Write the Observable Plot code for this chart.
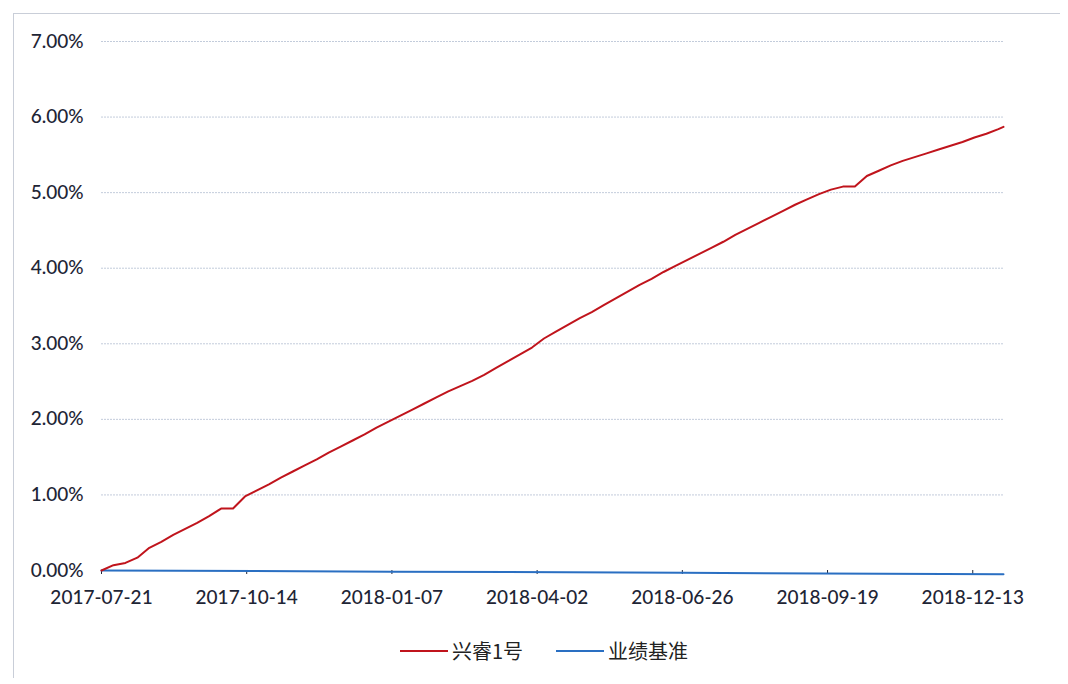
<!DOCTYPE html>
<html><head><meta charset="utf-8">
<script src="https://cdn.jsdelivr.net/npm/d3@7"></script>
<script src="https://cdn.jsdelivr.net/npm/@observablehq/plot@0.6"></script>
<style>
html,body{margin:0;padding:0;background:#fff;}
#frame{position:absolute;left:13px;top:13px;width:1046px;height:664px;border:1px solid #c9ced8;border-right:none;border-bottom:none;}
#chart{position:absolute;left:0;top:0;}
#legend{position:absolute;left:0;top:636px;width:1068px;font-family:"Noto Sans CJK SC",sans-serif;font-size:20px;color:#222;}
.item{position:absolute;top:0;display:flex;align-items:center;}
.sw{display:inline-block;width:48px;height:2px;margin-right:4px;}
</style></head>
<body>
<div id="frame"></div>
<div id="chart"></div>
<div id="legend">
  <div class="item" style="left:400px"><span class="sw" style="background:#c0141c"></span><span>兴睿1号</span></div>
  <div class="item" style="left:556px"><span class="sw" style="background:#2a6fc2"></span><span>业绩基准</span></div>
</div>
<script>
const fundDates = ["2017-07-21","2017-07-28","2017-08-04","2017-08-11","2017-08-18","2017-08-25","2017-09-01","2017-09-08","2017-09-15","2017-09-22","2017-09-29","2017-10-06","2017-10-13","2017-10-20","2017-10-27","2017-11-03","2017-11-10","2017-11-17","2017-11-24","2017-12-01","2017-12-08","2017-12-15","2017-12-22","2017-12-29","2018-01-05","2018-01-12","2018-01-19","2018-01-26","2018-02-02","2018-02-09","2018-02-16","2018-02-23","2018-03-02","2018-03-09","2018-03-16","2018-03-23","2018-03-30","2018-04-06","2018-04-13","2018-04-20","2018-04-27","2018-05-04","2018-05-11","2018-05-18","2018-05-25","2018-06-01","2018-06-08","2018-06-15","2018-06-22","2018-06-29","2018-07-06","2018-07-13","2018-07-20","2018-07-27","2018-08-03","2018-08-10","2018-08-17","2018-08-24","2018-08-31","2018-09-07","2018-09-14","2018-09-21","2018-09-28","2018-10-05","2018-10-12","2018-10-19","2018-10-26","2018-11-02","2018-11-09","2018-11-16","2018-11-23","2018-11-30","2018-12-07","2018-12-14","2018-12-21","2018-12-28","2018-12-31"];
const fundValues = [0.00,0.07,0.10,0.17,0.30,0.38,0.47,0.55,0.63,0.72,0.82,0.82,0.98,1.06,1.14,1.23,1.31,1.39,1.47,1.56,1.64,1.72,1.80,1.89,1.97,2.05,2.13,2.21,2.29,2.37,2.44,2.51,2.59,2.68,2.77,2.86,2.95,3.07,3.16,3.25,3.34,3.42,3.51,3.60,3.69,3.78,3.86,3.95,4.03,4.11,4.19,4.27,4.35,4.44,4.52,4.60,4.68,4.76,4.84,4.91,4.98,5.04,5.08,5.08,5.22,5.29,5.36,5.42,5.47,5.52,5.57,5.62,5.67,5.73,5.78,5.84,5.87];
const benchDates = ["2017-07-21","2018-01-07","2018-06-26","2018-12-31"];
const benchValues = [0.00,-0.015,-0.03,-0.05];
const xTicks = ["2017-07-21","2017-10-14","2018-01-07","2018-04-02","2018-06-26","2018-09-19","2018-12-13"];
const yTicks = [0,1,2,3,4,5,6,7];

const parse = d3.utcParse("%Y-%m-%d");
const fund = fundDates.map((d,i)=>({date:parse(d), v:fundValues[i]}));
const bench = benchDates.map((d,i)=>({date:parse(d), v:benchValues[i]}));

const chart = Plot.plot({
  width: 1068, height: 620,
  marginLeft: 101, marginRight: 65, marginTop: 41, marginBottom: 50,
  style: {fontFamily: "Lato, sans-serif", fontSize: "19px", fontWeight: "500", color: "#1e2535", background: "transparent"},
  x: {type: "utc", domain: [parse("2017-07-21"), parse("2018-12-31")], ticks: xTicks.map(parse), tickFormat: d3.utcFormat("%Y-%m-%d"), tickSize: 4, tickPadding: 16, label: null},
  y: {domain: [0, 7], ticks: yTicks, tickFormat: d => d.toFixed(2) + "%", tickSize: 0, tickPadding: 18, label: null},
  marks: [
    Plot.ruleY(yTicks.filter(t=>t>0), {x1: parse("2017-07-21"), x2: parse("2018-12-31"), stroke: "#c3ccdb", strokeWidth: 1, strokeDasharray: "2,1"}),
    Plot.line(bench, {x: "date", y: "v", stroke: "#2a6fc2", strokeWidth: 2}),
    Plot.line(fund, {x: "date", y: "v", stroke: "#c0141c", strokeWidth: 2})
  ]
});
document.getElementById("chart").appendChild(chart);
</script>
</body></html>
